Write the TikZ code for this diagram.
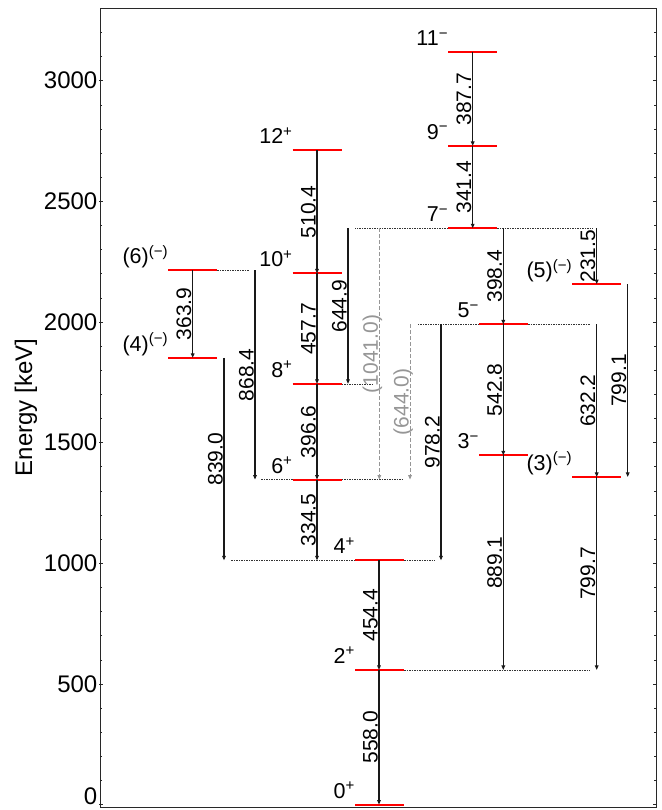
\documentclass[tikz,border=0pt]{standalone}
\usepackage{fontspec}
\setmainfont{Liberation Sans}
\usetikzlibrary{arrows.meta,calc}
\definecolor{tgray}{RGB}{150,150,150}
\definecolor{lred}{RGB}{255,0,0}
\definecolor{axc}{RGB}{40,40,40}
\begin{document}
\begin{tikzpicture}[x=1pt,y=0.2413pt,
  lvl/.style={draw=lred,line width=2pt},
  trans/.style={draw=black!90,line width=1.05pt,-{Triangle[length=4.5pt,width=3.6pt]}},
  tent/.style={draw=tgray,line width=1pt,dash pattern=on 4pt off 2pt,-{Triangle[length=4.5pt,width=3.6pt]}},
  conn/.style={draw=black!80,line width=0.5pt,dash pattern=on 1.5pt off 1pt},
  lvllab/.style={anchor=base east,inner sep=0pt,yshift=6.5pt,font=\fontsize{21.5}{24}\selectfont},
  elab/.style={xshift=-1.5pt,rotate=90,anchor=base,inner sep=0pt,font=\fontsize{21}{24}\selectfont},
  glab/.style={elab,text=tgray},
  ticklab/.style={anchor=east,inner sep=0pt,font=\fontsize{24}{28}\selectfont},
  axis/.style={draw=axc,line width=0.8pt}]
\useasboundingbox (0,-22.38) rectangle (662,3334.44);
\clip (0,-22.38) rectangle (662,3334.44);

% frame and ticks
\draw[axis] (100,-11.2) rectangle (656,3301.3);
\foreach \e in {0,100,...,3300}{
  \draw[axis,line width=0.6pt] (100,\e) -- ++(2,0);
  \draw[axis,line width=0.6pt] (656,\e) -- ++(-2,0);
}
\foreach \e in {500,1000,...,3000}{
  \draw[axis,line width=0.6pt] (99,\e) -- ++(4,0);
  \draw[axis,line width=0.6pt] (657,\e) -- ++(-4,0);
  \node[ticklab] (tk\e) at (97.5,\e) {\e};
}
\draw[axis,line width=0.6pt] (99,0) -- ++(4,0);
\draw[axis,line width=0.6pt] (657,0) -- ++(-4,0);
\node[ticklab,yshift=8pt] (tk0) at (97.5,0) {0};
\node[rotate=90,font=\fontsize{24}{28}\selectfont] (ylab) at (26,1645.6) {Energy [keV]};

% columns of transitions
\coordinate (cA) at (192.7,0);
\coordinate (cA2) at (224,0);
\coordinate (cA3) at (255,0);
\coordinate (cB) at (317,0);
\coordinate (cB2) at (348,0);
\coordinate (cG1) at (379.3,0);
\coordinate (cC) at (379,0);
\coordinate (cG2) at (410,0);
\coordinate (cC2) at (441,0);
\coordinate (cD) at (472.7,0);
\coordinate (cE) at (503.3,0);
\coordinate (cF) at (596.7,0);
\coordinate (cF2) at (627.7,0);

% levels (left ends)
\coordinate (L0p) at (355,0);
\coordinate (L2p) at (355,558.0);
\coordinate (L4p) at (355,1012.4);
\coordinate (L6p) at (292.7,1346.9);
\coordinate (L8p) at (292.7,1743.5);
\coordinate (L10p) at (292.7,2201.2);
\coordinate (L12p) at (292.7,2711.6);
\coordinate (L3m) at (479,1447.1);
\coordinate (L5m) at (479,1990.0);
\coordinate (L7m) at (448.3,2388.4);
\coordinate (L9m) at (448.3,2729.8);
\coordinate (L11m) at (448.3,3117.5);
\coordinate (L5x) at (572.3,2156.9);
\coordinate (L3x) at (572.3,1357.8);
\coordinate (L6x) at (168.3,2215.3);
\coordinate (L4x) at (168.3,1851.4);

% dotted connecting lines
\draw[conn] ([xshift=49pt]L6x) -- ++(31.7,0);
\draw[conn] (L6p) -- ++(-31.7,0);
\draw[conn] ([xshift=49pt]L6p) -- ++(62.3,0);
\draw[conn] ([xshift=49pt]L8p) -- ++(30.3,0);
\draw[conn] (L4p) -- ++(-125,0);
\draw[conn] ([xshift=49pt]L4p) -- ++(31,0);
\draw[conn] (L5m) -- ++(-62,0);
\draw[conn] ([xshift=49pt]L5m) -- ++(62,0);
\draw[conn] (L7m) -- ++(-93.3,0);
\draw[conn] ([xshift=49pt]L7m) -- ++(95.7,0);
\draw[conn] ([xshift=49pt]L2p) -- ++(186,0);

% level lines
\draw[lvl] (L0p) -- ++(49,0);
\draw[lvl] (L2p) -- ++(49,0);
\draw[lvl] (L4p) -- ++(49,0);
\draw[lvl] (L6p) -- ++(49,0);
\draw[lvl] (L8p) -- ++(49,0);
\draw[lvl] (L10p) -- ++(49,0);
\draw[lvl] (L12p) -- ++(49,0);
\draw[lvl] (L3m) -- ++(49,0);
\draw[lvl] (L5m) -- ++(49,0);
\draw[lvl] (L7m) -- ++(49,0);
\draw[lvl] (L9m) -- ++(49,0);
\draw[lvl] (L11m) -- ++(49,0);
\draw[lvl] (L5x) -- ++(49,0);
\draw[lvl] (L3x) -- ++(49,0);
\draw[lvl] (L6x) -- ++(49,0);
\draw[lvl] (L4x) -- ++(49,0);

% level labels
\node[lvllab] (n0p) at (L0p) {0\textsuperscript{+}};
\node[lvllab] (n2p) at (L2p) {2\textsuperscript{+}};
\node[lvllab] (n4p) at (L4p) {4\textsuperscript{+}};
\node[lvllab] (n6p) at (L6p) {6\textsuperscript{+}};
\node[lvllab] (n8p) at (L8p) {8\textsuperscript{+}};
\node[lvllab] (n10p) at (L10p) {10\textsuperscript{+}};
\node[lvllab] (n12p) at (L12p) {12\textsuperscript{+}};
\node[lvllab] (n3m) at (L3m) {3\textsuperscript{−}};
\node[lvllab] (n5m) at (L5m) {5\textsuperscript{−}};
\node[lvllab] (n7m) at (L7m) {7\textsuperscript{−}};
\node[lvllab] (n9m) at (L9m) {9\textsuperscript{−}};
\node[lvllab] (n11m) at (L11m) {11\textsuperscript{−}};
\node[lvllab] (n5x) at (L5x) {(5)\textsuperscript{(−)}};
\node[lvllab] (n3x) at (L3x) {(3)\textsuperscript{(−)}};
\node[lvllab] (n6x) at (L6x) {(6)\textsuperscript{(−)}};
\node[lvllab] (n4x) at (L4x) {(4)\textsuperscript{(−)}};

% transitions
\draw[trans] (cC |- L2p) -- node[elab]{558.0} (cC |- L0p);
\draw[trans] (cC |- L4p) -- node[elab]{454.4} (cC |- L2p);
\draw[trans] (cB |- L6p) -- node[elab]{334.5} (cB |- L4p);
\draw[trans] (cB |- L8p) -- node[elab]{396.6} (cB |- L6p);
\draw[trans] (cB |- L10p) -- node[elab]{457.7} (cB |- L8p);
\draw[trans] (cB |- L12p) -- node[elab]{510.4} (cB |- L10p);
\draw[trans] (cA |- L6x) -- node[elab]{363.9} (cA |- L4x);
\draw[trans] (cA2 |- L4x) -- node[elab]{839.0} (cA2 |- L4p);
\draw[trans] (cA3 |- L6x) -- node[elab]{868.4} (cA3 |- L6p);
\draw[trans] (cB2 |- L7m) -- node[elab]{644.9} (cB2 |- L8p);
\draw[tent] (cG1 |- L7m) -- node[glab]{(1041.0)} (cG1 |- L6p);
\draw[tent] (cG2 |- L5m) -- node[glab]{(644.0)} (cG2 |- L6p);
\draw[trans] (cC2 |- L5m) -- node[elab]{978.2} (cC2 |- L4p);
\draw[trans] (cD |- L11m) -- node[elab]{387.7} (cD |- L9m);
\draw[trans] (cD |- L9m) -- node[elab]{341.4} (cD |- L7m);
\draw[trans] (cE |- L7m) -- node[elab]{398.4} (cE |- L5m);
\draw[trans] (cE |- L5m) -- node[elab]{542.8} (cE |- L3m);
\draw[trans] (cE |- L3m) -- node[elab]{889.1} (cE |- L2p);
\draw[trans] (cF |- L7m) -- node[elab]{231.5} (cF |- L5x);
\draw[trans] (cF |- L5m) -- node[elab]{632.2} (cF |- L3x);
\draw[trans] (cF2 |- L5x) -- node[elab]{799.1} (cF2 |- L3x);
\draw[trans] (cF |- L3x) -- node[elab]{799.7} (cF |- L2p);
\end{tikzpicture}
\end{document}
